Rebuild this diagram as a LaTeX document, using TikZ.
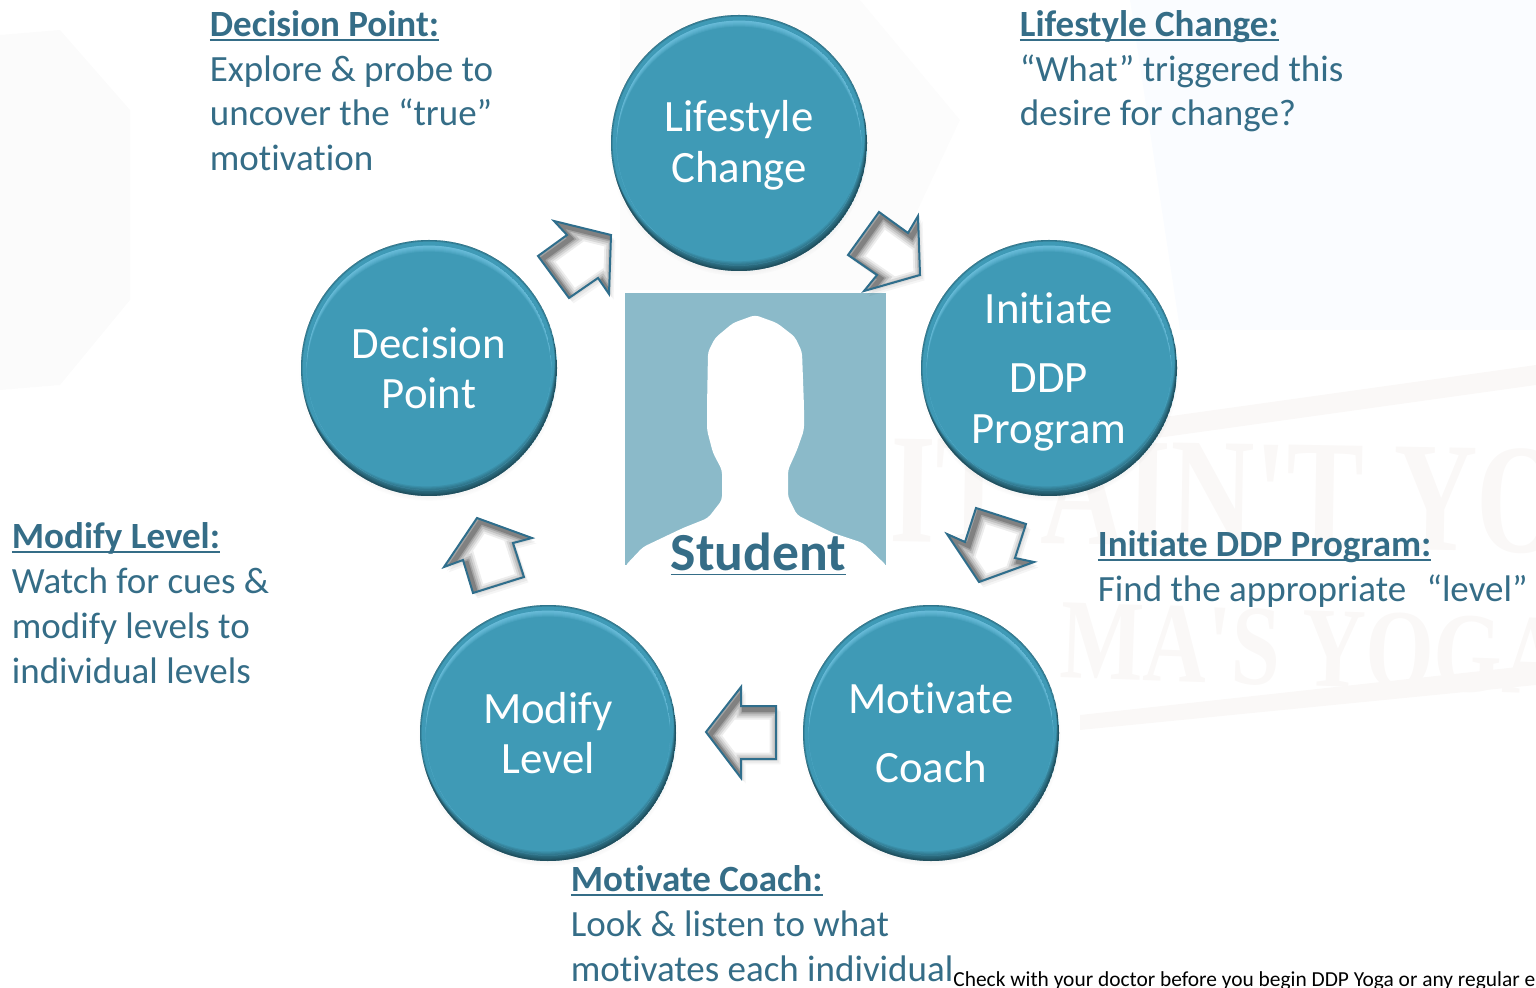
\documentclass[tikz,border=0pt]{standalone}
\usepackage{fontspec}
\setmainfont[Ligatures=NoCommon]{Carlito}
\newfontfamily\ghostfont{Liberation Serif}
\usetikzlibrary{shadows,calc}
\definecolor{ball}{HTML}{3F9AB6}
\definecolor{ink}{HTML}{356D87}
\definecolor{sil}{HTML}{8BBAC9}
\definecolor{edgeb}{HTML}{2F6E8C}
\definecolor{ghost}{HTML}{FAF8F7}
\newcommand{\ulh}[1]{\setbox0=\hbox{#1}\rlap{\rule[-2.2pt]{\wd0}{.9pt}}\box0 }
\newcommand{\topstrut}[1]{\rule{0pt}{#1}}
\newcommand{\blockarrow}[1]{%
  \foreach \s/\o in {1.5/.06,3/.05,4.5/.04}{
    \fill[black,opacity=\o,line join=round] [xshift=\s pt*.5,yshift=-\s pt*.6] #1 -- cycle;}
  \begin{scope}
    \clip #1 -- cycle;
    \fill[white] #1 -- cycle;
    \foreach \w/\o in {10/.07,8/.09,6/.11,4/.15,2.5/.2}{
      \draw[black,opacity=\o,line width=\w pt,line join=miter] [xshift=1.8pt,yshift=-1.8pt] #1 -- cycle;}
  \end{scope}
  \draw[edgeb,line width=1pt,line join=miter] #1 -- cycle;
}
\tikzset{
  x=.5pt,y=-.5pt,
  ballnode/.style={circle,minimum size=128pt,inner sep=0pt,align=center,text=white,
    font=\fontsize{22.4}{25}\selectfont,
    circular drop shadow={shadow xshift=0pt,shadow yshift=-1.5pt,shadow scale=1.015,opacity=.3},
    fill=ball,
    path picture={
      \coordinate (pc) at (path picture bounding box.center);
      \foreach \d in {.6,1.2,...,4.8}{
        \fill[black,opacity=.07,even odd rule] (pc) circle[radius=64pt] ([xshift=-.25*\d pt,yshift=\d pt]pc) circle[radius=64pt];}
      \begin{scope}
        \clip (pc) circle[radius=61.2pt];
        \foreach \d in {.5,1,...,3}{
          \fill[cyan!45!white,opacity=.12,even odd rule] (pc) circle[radius=61.2pt] ([yshift=-\d pt]pc) circle[radius=61.2pt];}
      \end{scope}
      \draw[black!50!ball,opacity=.35,line width=.8pt] (pc) circle[radius=63.6pt];
    }},
  bodytext/.style={anchor=north west,inner sep=0pt,align=left,text=ink,
    font=\fontsize{18.5}{22.4}\selectfont},
  ghosttext/.style={text=ghost,inner sep=0pt,anchor=west}
}
\begin{document}
\begin{tikzpicture}
\useasboundingbox (0,0) rectangle (1536,988);
\clip (0,0) rectangle (1536,988);
% faint watermark
\fill[black!1.5] (0,35) -- (60,30) -- (130,110) -- (130,300) -- (60,385) -- (0,390) -- cycle;
\fill[blue!50!cyan!2] (1130,0) -- (1536,0) -- (1536,330) -- (1180,330) -- cycle;
\fill[black!1] (620,0) -- (860,0) -- (960,120) -- (880,290) -- (620,290) -- cycle;
\node[ghosttext,rotate=-1,yscale=1.35,font=\ghostfont\bfseries\fontsize{58}{58}\selectfont] (wm1) at (890,490) {IT AIN'T YOUR};
\node[ghosttext,rotate=-2,yscale=1.3,font=\ghostfont\bfseries\fontsize{44}{44}\selectfont] (wm2) at (1060,640) {MA'S YOGA};
\fill[ghost] (1000,440) -- (1536,365) -- (1536,385) -- (1000,460) -- cycle;
\fill[ghost] (1080,715) -- (1536,665) -- (1536,685) -- (1080,730) -- cycle;
% central picture
\fill[sil] (625,293) rectangle (886,565);
\fill[white,rounded corners=2pt] (625,566) -- (643,547) -- (683,528) -- (708,518) -- (722,500) -- (722,470) -- (713,453) -- (707,430) -- (707,407) -- (708,352) -- (715,338) -- (733,323) -- (755,315) -- (777,323) -- (795,337) -- (802,352) -- (804,407) -- (804,430) -- (797,450) -- (788,470) -- (788,497) -- (797,515) -- (833,533) -- (863,543) -- (887,566) -- (887,590) -- (625,590) -- cycle;
\node[inner sep=0pt,text=ink,font=\bfseries\fontsize{26.8}{30}\selectfont,anchor=base] (student) at (758.5,571) {\ulh{Student}};
% circles
\node[ballnode] (life) at (739,143) {\topstrut{18pt}Lifestyle\\[.2pt]Change};
\node[ballnode] (init) at (1049,368) {\topstrut{19.5pt}Initiate\\[9.5pt]DDP\\[.2pt]Program};
\node[ballnode] (moti) at (931,733) {Motivate\\[9.5pt]Coach};
\node[ballnode] (modi) at (548,733) {Modify\\[.2pt]Level};
\node[ballnode] (deci) at (429,368) {Decision\\[.2pt]Point};
% block arrows
\blockarrow{(611,235) -- (554,221) -- (567,235) -- (538,256) -- (569,298) -- (598,278) -- (609,294)}
\blockarrow{(920,275) -- (918,216) -- (908,233) -- (879,212) -- (848,255) -- (877,275) -- (864,291)}
\blockarrow{(979,582) -- (1034,562) -- (1015,558) -- (1026,524) -- (976,508) -- (965,542) -- (947,534)}
\blockarrow{(706,732) -- (741,778) -- (741,759) -- (776,759) -- (776,706) -- (741,706) -- (741,687)}
\blockarrow{(477,518) -- (444,567) -- (463,560) -- (473,593) -- (524,577) -- (513,543) -- (532,538)}
% captions
\node[bodytext] (tdeci) at (209.5,10) {\textbf{\ulh{Decision Point:}}\\Explore \& probe to\\uncover the “true”\\motivation};
\node[bodytext] (tlife) at (1019.5,10) {\textbf{\ulh{Lifestyle Change:}}\\“What” triggered this\\desire for change?};
\node[bodytext] (tinit) at (1097.5,530.5) {\textbf{\ulh{Initiate DDP Program:}}\\Find the appropriate\hspace{6pt} “level”};
\node[bodytext] (tmodi) at (11.5,522.5) {\textbf{\ulh{Modify Level:}}\\Watch for cues \&\\modify levels to\\individual levels};
\node[bodytext] (tmoti) at (570.5,865.5) {\textbf{\ulh{Motivate Coach:}}\\Look \& listen to what\\motivates each individual};
\node[inner sep=0pt,anchor=base west,text=black,font=\fontsize{10.7}{12}\selectfont] (note) at (953,986) {Check with your doctor before you begin DDP Yoga or any regular e};
\end{tikzpicture}
\end{document}
